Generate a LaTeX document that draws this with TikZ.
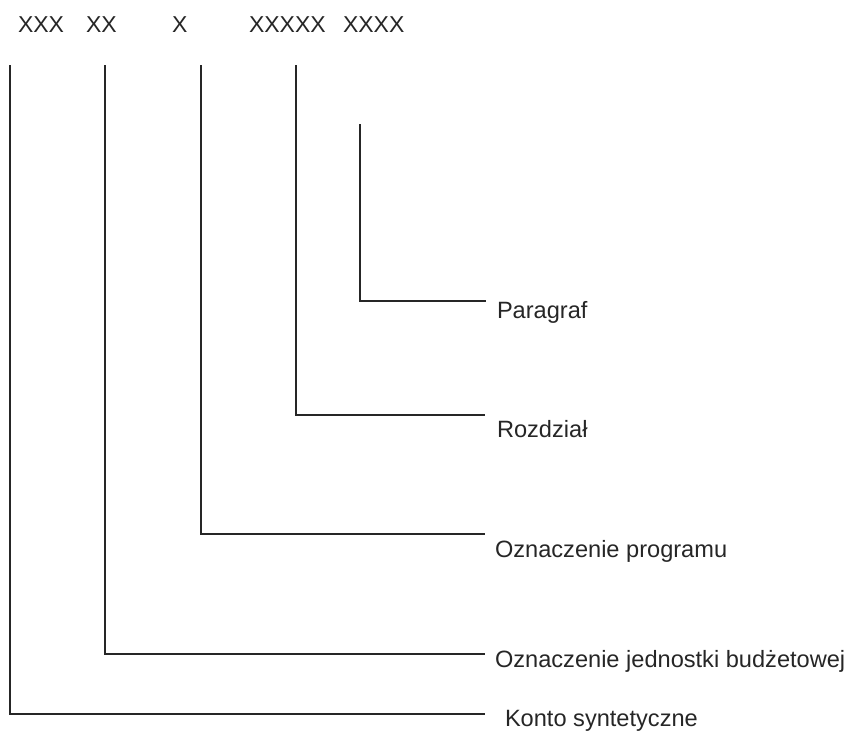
\documentclass[tikz,border=0pt]{standalone}
\usepackage{fontspec}
\setmainfont{Liberation Sans}
\begin{document}
\begin{tikzpicture}[x=1pt,y=-1pt,
  txt/.style={inner sep=0pt, outer sep=0pt, anchor=base west,
    font=\fontsize{23}{27}\selectfont, text=black!85},
  lbl/.style={txt, font=\fontsize{23.6}{28}\selectfont},
  leader/.style={line width=2pt, draw=black!85}]
\useasboundingbox (0,0) rectangle (856,742);

% account number pattern
\node[txt] (g1) at (18,32)  {XXX};
\node[txt] (g2) at (86,32)  {XX};
\node[txt] (g3) at (172,32) {X};
\node[txt] (g4) at (249,32) {XXXXX};
\node[txt] (g5) at (343,32) {XXXX};

% descriptions of the segments
\node[lbl] (paragraf)  at (497,318) {Paragraf};
\node[lbl] (rozdzial)  at (497,437) {Rozdział};
\node[lbl] (program)   at (495,557) {Oznaczenie programu};
\node[lbl] (jednostka) at (495,667) {Oznaczenie jednostki budżetowej};
\node[lbl] (konto)     at (505,726) {Konto syntetyczne};

% upper ends of the leaders
\coordinate (t1) at (10,65);
\coordinate (t2) at (105,65);
\coordinate (t3) at (201,65);
\coordinate (t4) at (296,65);
\coordinate (t5) at (360,124);

% right ends of the leaders, just before each description
\coordinate (e1) at (485,714);
\coordinate (e2) at (485,654);
\coordinate (e3) at (485,534);
\coordinate (e4) at (485,415);
\coordinate (e5) at (486,301);

\draw[leader] (t1) |- (e1);
\draw[leader] (t2) |- (e2);
\draw[leader] (t3) |- (e3);
\draw[leader] (t4) |- (e4);
\draw[leader] (t5) |- (e5);
\end{tikzpicture}
\end{document}
